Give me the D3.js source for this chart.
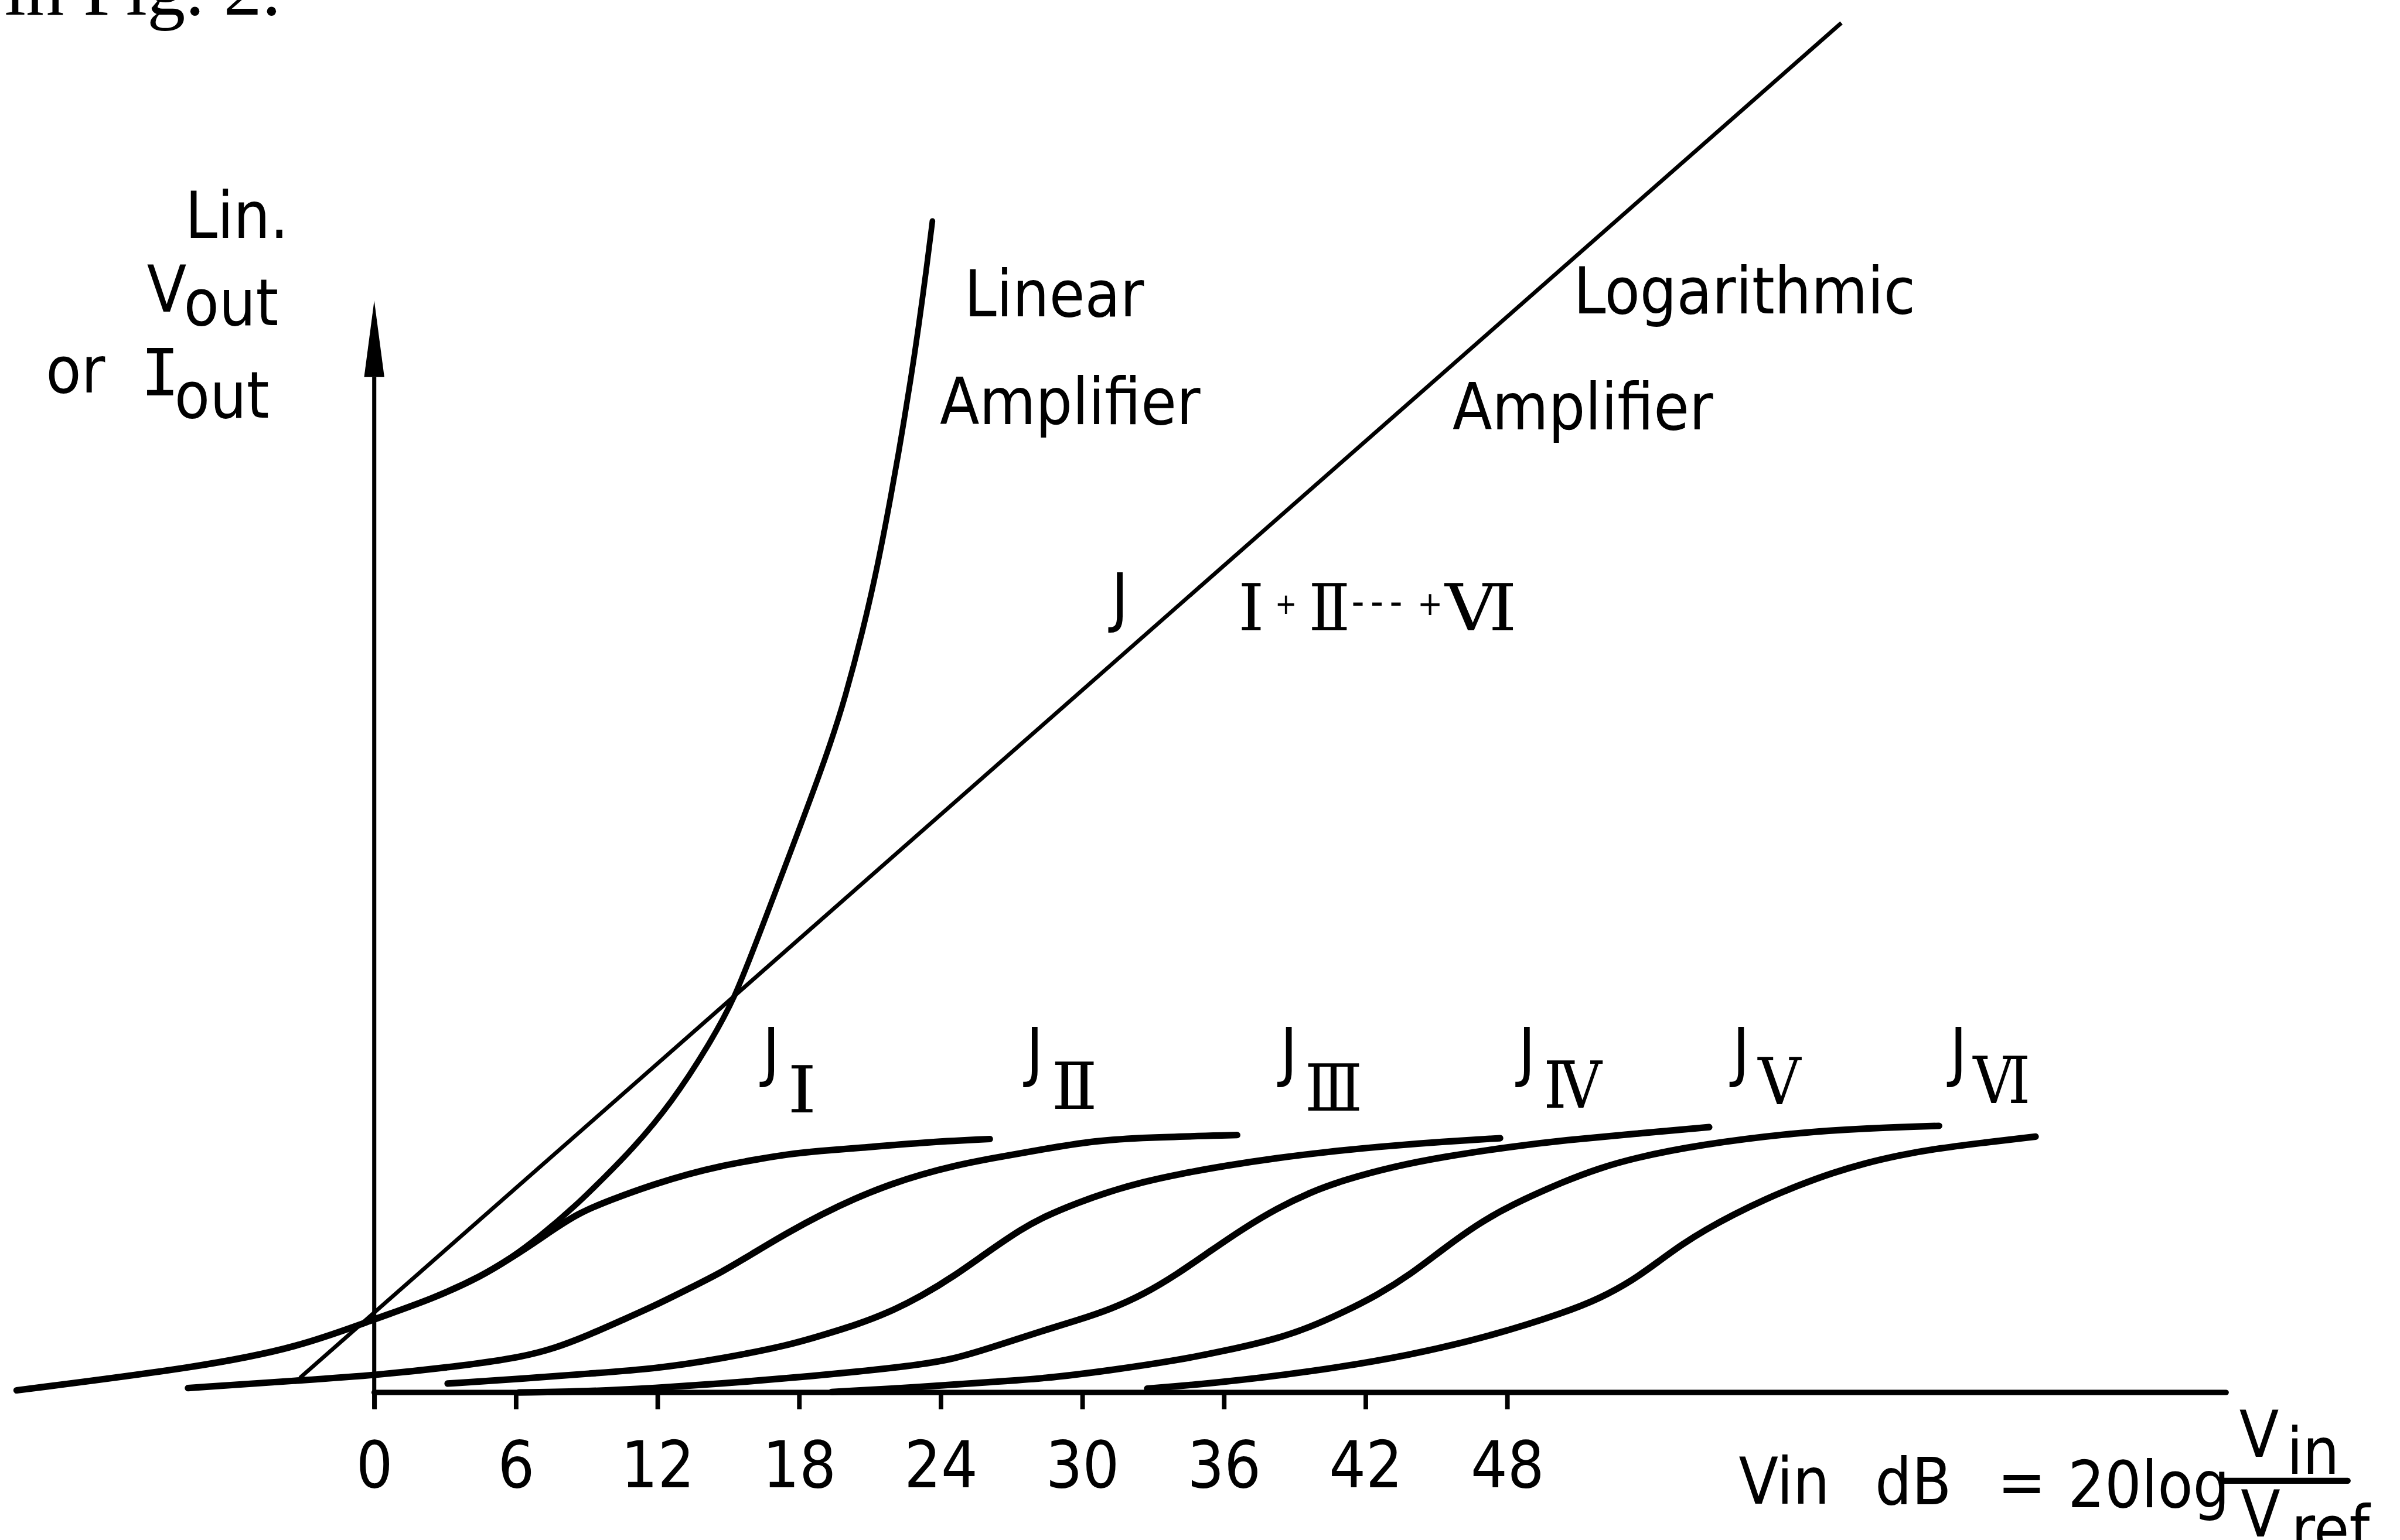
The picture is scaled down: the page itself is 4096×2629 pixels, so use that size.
<!DOCTYPE html>
<html>
<head>
<meta charset="utf-8">
<script src="https://cdn.jsdelivr.net/npm/d3@7"></script>
<style>
  html, body { margin: 0; padding: 0; background: #fff; overflow: hidden; }
  svg { display: block; }
  text { font-family: "DejaVu Sans Condensed", "DejaVu Sans", sans-serif; font-stretch: condensed; fill: #000; }
</style>
</head>
<body>
<div id="vis"></div>
<script>
// x: input level Vin in dB, y: linear output (arbitrary units)
const dbTicks = [0, 6, 12, 18, 24, 30, 36, 42, 48];
const stageNames = ["Ⅰ", "Ⅱ", "Ⅲ", "Ⅳ", "Ⅴ", "Ⅵ"];

const logAmpDb = [-3.15, 62.16];
const logAmpOut = [1.36, 127.86];

const linAmpDb = [-15.15, -7.39, -3.16, 0.05, 2.48, 4.60, 5.73, 7.00, 8.62, 9.73, 10.91, 12.61, 14.16, 15.29, 16.23,
                  19.18, 19.98, 20.68, 21.32, 21.91, 22.32, 22.75, 23.05, 23.41, 23.65];
const linAmpOut = [0.20, 2.37, 4.24, 6.89, 8.74, 10.91, 12.47, 14.53, 17.61, 20.04, 22.64, 27.07, 32.36, 36.86, 42.30,
                   59.34, 65.09, 70.90, 77.04, 83.89, 89.01, 94.83, 99.27, 105.09, 109.36];

const j1Db = [-15.15, -7.39, -3.16, 0.05, 2.48, 4.60, 5.73, 7.00, 8.62, 10.49, 11.91, 13.31, 14.73, 16.13, 17.55, 18.96, 20.36, 23.18, 26.08];
const j1Out = [0.20, 2.37, 4.24, 6.89, 8.74, 10.91, 12.47, 14.29, 16.80, 18.37, 19.47, 20.40, 21.17, 21.73, 22.26, 22.57, 22.79, 23.34, 23.66];

const j2Db = [-7.89, -3.16, 0.05, 3.89, 6.26, 7.67, 9.09, 10.49, 11.91, 13.31, 14.73, 16.13, 17.55, 18.96, 20.36, 21.78,
              23.18, 24.60, 26.01, 28.38, 30.49, 32.61, 36.56];
const j2Out = [0.41, 1.13, 1.60, 2.53, 3.31, 4.14, 5.36, 6.74, 8.13, 9.67, 11.23, 13.10, 14.96, 16.64, 18.11, 19.36,
               20.36, 21.17, 21.80, 22.73, 23.50, 23.81, 24.03];

const j3Db = [3.11, 6.26, 9.09, 11.91, 14.73, 17.55, 18.96, 20.36, 21.78, 23.18, 24.60, 26.01, 27.42, 28.38, 29.79, 31.20,
              32.61, 34.02, 36.14, 38.25, 40.37, 42.48, 45.31, 47.70];
const j3Out = [0.83, 1.29, 1.76, 2.21, 3.16, 4.40, 5.33, 6.26, 7.44, 8.99, 10.91, 13.14, 15.26, 16.41, 17.71, 18.80,
               19.67, 20.36, 21.20, 21.90, 22.46, 22.93, 23.43, 23.74];

const j4Db = [6.13, 9.09, 11.91, 14.73, 17.55, 20.36, 23.18, 24.60, 26.01, 28.38, 29.79, 31.20, 32.61, 34.02, 35.43,
              36.84, 38.25, 39.66, 41.07, 43.18, 45.31, 48.12, 50.49, 53.32, 56.56];
const j4Out = [0.00, 0.10, 0.41, 0.83, 1.34, 1.91, 2.60, 3.16, 4.09, 5.81, 6.74, 7.77, 9.17, 11.04, 13.21,
               15.33, 17.19, 18.69, 19.83, 21.09, 22.01, 22.94, 23.57, 24.13, 24.77];

const j5Db = [19.38, 23.18, 26.01, 28.38, 31.20, 34.02, 36.14, 38.25, 39.66, 41.07, 42.48, 43.89, 45.31, 46.71, 48.12,
              50.49, 51.91, 53.32, 56.14, 60.37, 63.20, 66.30];
const j5Out = [0.04, 0.51, 0.97, 1.29, 2.07, 3.00, 3.93, 5.01, 6.10, 7.50, 9.06, 11.00, 13.43, 15.66, 17.46,
               19.79, 20.93, 21.86, 23.14, 24.29, 24.67, 24.89];

const j6Db = [32.75, 35.43, 39.66, 43.89, 47.42, 50.49, 51.91, 53.32, 54.45, 55.43, 56.42, 57.55, 58.96, 60.37, 61.78,
              63.20, 64.60, 66.01, 68.13, 70.39];
const j6Out = [0.36, 0.83, 1.91, 3.46, 5.33, 7.50, 8.76, 10.46, 12.29, 13.86, 15.21, 16.57, 18.07, 19.36, 20.50,
               21.43, 22.14, 22.71, 23.31, 23.89];

const W = 4096, H = 2629;
// placement frame for annotations (reference measured on a 1568 wide copy)
const frame = d3.scaleLinear().domain([0, 1568]).range([0, W]);
const fs = frame(42);
const serif = '"DejaVu Serif", "Liberation Serif", serif';

const x = d3.scaleLinear().domain([0, 48]).range([frame(244.5), frame(984.66)]);
const y = d3.scaleLinear().domain([0, 100]).range([frame(910), frame(210)]);

const zip = (a, b) => a.map((d, i) => [d, b[i]]);

const stages = [j1Db, j2Db, j3Db, j4Db, j5Db, j6Db].map((db, i) => ({
    name: stageNames[i],
    pts: zip(db, [j1Out, j2Out, j3Out, j4Out, j5Out, j6Out][i])
}));

const svg = d3.select("#vis")
    .append("svg")
    .attr("width", W)
    .attr("height", H);

////////// axes //////////

svg.append("defs").append("marker")
    .attr("id", "arrow")
    .attr("markerUnits", "userSpaceOnUse")
    .attr("viewBox", `0 ${-frame(6.6)} ${frame(50)} ${frame(13.2)}`)
    .attr("markerWidth", frame(50))
    .attr("markerHeight", frame(13.2))
    .attr("refX", 0)
    .attr("refY", 0)
    .attr("orient", "auto")
    .append("path")
    .attr("d", `M0,${-frame(6.6)}L${frame(50)},0L0,${frame(6.6)}Z`)
    .attr("fill", "#000");

svg.append("line")
    .attr("x1", x(0)).attr("x2", x(0))
    .attr("y1", y(-1.51)).attr("y2", y(94.8))
    .attr("stroke", "#000")
    .attr("stroke-width", frame(2.7))
    .attr("marker-end", "url(#arrow)");

let xAxis = d3.axisBottom(x)
    .tickValues(dbTicks)
    .tickSize(frame(11))
    .tickSizeOuter(0)
    .tickPadding(frame(21))
    .tickFormat(d3.format("d"));

let gx = svg.append("g")
    .attr("transform", "translate(0," + y(0) + ")")
    .call(xAxis);
gx.select(".domain").remove();
gx.selectAll(".tick line").attr("stroke", "#000").attr("stroke-width", frame(3));
gx.selectAll(".tick text")
    .attr("font-size", fs)
    .attr("font-family", '"DejaVu Sans Condensed", "DejaVu Sans", sans-serif')
    .attr("fill", "#000");

svg.append("line")
    .attr("x1", x(0)).attr("x2", x(78.46))
    .attr("y1", y(0)).attr("y2", y(0))
    .attr("stroke", "#000")
    .attr("stroke-width", frame(3.6))
    .attr("stroke-linecap", "round");

////////// curves //////////

// hand drawn curves: smooth the read-off points
const line = d3.line()
    .x(d => x(d[0]))
    .y(d => y(d[1]))
    .curve(d3.curveBasis);

svg.append("path")
    .datum(zip(logAmpDb, logAmpOut))
    .attr("d", line)
    .attr("fill", "none")
    .attr("stroke", "#000")
    .attr("stroke-width", frame(2.6));

svg.append("path")
    .datum(zip(linAmpDb, linAmpOut))
    .attr("d", line)
    .attr("fill", "none")
    .attr("stroke", "#000")
    .attr("stroke-width", frame(3.7))
    .attr("stroke-linecap", "round");

svg.selectAll(".stage")
    .data(stages)
    .enter()
    .append("path")
    .attr("class", "stage")
    .attr("d", d => line(d.pts))
    .attr("fill", "none")
    .attr("stroke", "#000")
    .attr("stroke-width", frame(4.3))
    .attr("stroke-linecap", "round");

////////// labels //////////

const put = (t, px, py, opts = {}) => {
    let el = svg.append("text")
        .attr("x", frame(px))
        .attr("y", frame(py))
        .attr("font-size", opts.size ? frame(opts.size) : fs)
        .style("font-family", opts.family || null)
        .style("letter-spacing", opts.spacing ? frame(opts.spacing) + "px" : null)
        .text(t);
    if (opts.len) el.attr("textLength", frame(opts.len)).attr("lengthAdjust", "spacingAndGlyphs");
    return el;
};

put("in Fig. 2.", 3, 9.5, {size: 50, family: '"Liberation Serif", "DejaVu Serif", serif'});

put("Lin.", 121, 155.6);
put("V", 96, 203.6);
put("out", 120, 212.4);
put("or", 30, 256.5);
put("I", 92, 258.4, {family: '"DejaVu Sans Mono", monospace'});
put("out", 114, 273.1);

put("Linear", 630, 206.7);
put("Amplifier", 614, 277.3);
put("Logarithmic", 1028, 204.8);
put("Amplifier", 949, 280.6);

put("J", 726, 405);
put("Ⅰ", 809, 411.9, {family: serif, len: 17});
put("+", 833, 401, {size: 19});
put("Ⅱ", 855, 411.9, {family: serif, len: 27});
put("---", 883, 402, {size: 26, spacing: 4});
put("+", 926, 402, {size: 22});
put("Ⅵ", 944, 411.9, {family: serif, len: 47});

const jLabelX = [497.2, 669.4, 835.4, 991, 1130.9, 1272.9];
const numLabelX = [514.5, 687, 852.5, 1008.5, 1148.5, 1289];
const numLabelY = [727, 724.8, 725.9, 724, 721.6, 721];
const numLabelLen = [19, 30, 37.5, 38, 28, 37.5];
stages.forEach((s, i) => {
    put("J", jLabelX[i] + 1, 702);
    put(s.name, numLabelX[i], numLabelY[i], {family: serif, len: numLabelLen[i]});
});

put("Vin", 1136, 982.6);
put("dB", 1225, 983);
put("=", 1305, 983);
put("20log", 1351, 985);
svg.append("line")
    .attr("x1", frame(1451.6)).attr("x2", frame(1533.8))
    .attr("y1", frame(967.7)).attr("y2", frame(967.7))
    .attr("stroke", "#000")
    .attr("stroke-width", frame(4))
    .attr("stroke-linecap", "round");
put("V", 1463, 951.9);
put("in", 1494, 963);
put("V", 1464, 1004);
put("ref", 1497, 1014);
</script>
</body>
</html>
